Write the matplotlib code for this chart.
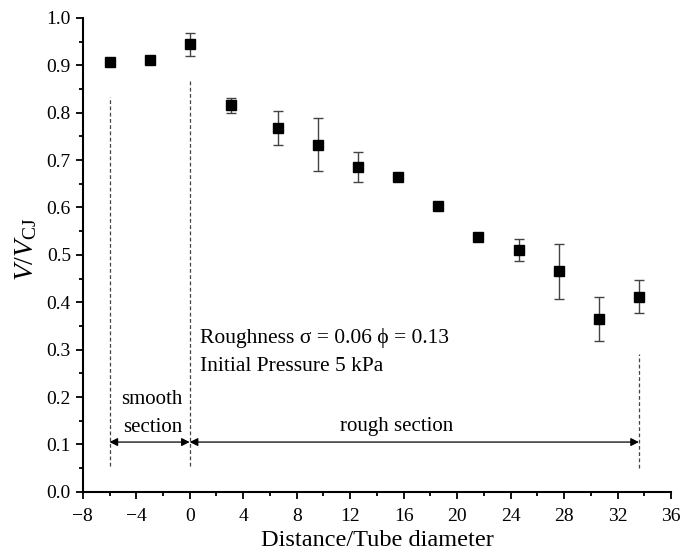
import numpy as np
import matplotlib
matplotlib.use("Agg")
import matplotlib.pyplot as plt
from matplotlib.ticker import MultipleLocator

plt.rcParams['font.family'] = ['Liberation Serif', 'DejaVu Serif']
plt.rcParams['mathtext.fontset'] = 'custom'
plt.rcParams['mathtext.rm'] = 'Liberation Serif'
plt.rcParams['mathtext.it'] = 'Liberation Serif:italic'

# distance / tube diameter and V/V_CJ
distance = [-6, -3, 0, 3.1, 6.6, 9.6, 12.6, 15.6, 18.6, 21.6, 24.6, 27.6, 30.6, 33.6]
velocity = [0.906, 0.911, 0.944, 0.816, 0.768, 0.732, 0.685, 0.665, 0.603, 0.537, 0.511, 0.465, 0.365, 0.411]
err_low = [0.906, 0.911, 0.920, 0.799, 0.732, 0.677, 0.653, 0.665, 0.603, 0.537, 0.488, 0.407, 0.319, 0.377]
err_high = [0.906, 0.911, 0.967, 0.831, 0.804, 0.788, 0.717, 0.665, 0.603, 0.537, 0.533, 0.523, 0.411, 0.447]

smooth_start = -6
rough_start = 0
rough_end = 33.6

fig = plt.figure(figsize=(6.84, 5.57), dpi=100)
ax = fig.add_axes([0.121, 0.117, 0.860, 0.851])

v = np.array(velocity)
yerr = [v - np.array(err_low), np.array(err_high) - v]
ax.errorbar(distance, velocity, yerr=yerr, fmt='s', color='black', ms=7.5,
            ecolor='#444444', elinewidth=1.0, capsize=3.5, capthick=1.0)

# dashed section boundaries
ax.plot([smooth_start, smooth_start], [0.055, 0.834], ls=(0, (3, 2)), color='#444444', lw=0.9)
ax.plot([rough_start, rough_start], [0.055, 0.866], ls=(0, (3, 2)), color='#444444', lw=0.9)
ax.plot([rough_end, rough_end], [0.05, 0.291], ls=(0, (3, 2)), color='#444444', lw=0.9)

arrow = dict(arrowstyle='<|-|>', color='black', lw=0.9, mutation_scale=12, shrinkA=0, shrinkB=0)
ax.annotate('', xy=(smooth_start, 0.105), xytext=(rough_start, 0.105), arrowprops=arrow)
ax.annotate('', xy=(rough_start, 0.105), xytext=(rough_end, 0.105), arrowprops=arrow)

ax.text(-2.8, 0.194, 'smooth', ha='center', va='center', fontsize=15)
ax.text(-2.8, 0.135, 'section', ha='center', va='center', fontsize=15)
ax.text(15.5, 0.137, 'rough section', ha='center', va='center', fontsize=15)
ax.text(0.8, 0.325, 'Roughness σ = 0.06 ϕ = 0.13', ha='left', va='center', fontsize=15.5)
ax.text(0.8, 0.264, 'Initial Pressure 5 kPa', ha='left', va='center', fontsize=15.5)

ax.set_xlim(-8, 36)
ax.set_ylim(0, 1.0)
ax.xaxis.set_major_locator(MultipleLocator(4))
ax.xaxis.set_minor_locator(MultipleLocator(2))
ax.yaxis.set_major_locator(MultipleLocator(0.1))
ax.yaxis.set_minor_locator(MultipleLocator(0.05))
ax.yaxis.set_major_formatter(matplotlib.ticker.FormatStrFormatter('%.1f'))
ax.xaxis.set_major_formatter(matplotlib.ticker.FuncFormatter(lambda x, p: f'{int(x)}'.replace('-', '\u2212')))

ax.spines['top'].set_visible(False)
ax.spines['right'].set_visible(False)
ax.spines['left'].set_linewidth(1.5)
ax.spines['bottom'].set_linewidth(1.5)
ax.tick_params(which='major', direction='out', length=5, width=1.3, labelsize=14)
ax.tick_params(which='minor', direction='out', length=3, width=1.3)
ax.tick_params(axis='x', which='major', pad=7)

ax.set_xlabel('Distance/Tube diameter', fontsize=17.5, labelpad=3)
ax.set_ylabel(r'$V/V_{\mathrm{CJ}}$', fontsize=20)
ax.yaxis.set_label_coords(-0.075, 0.513)

fig.savefig('out.png', dpi=100)
